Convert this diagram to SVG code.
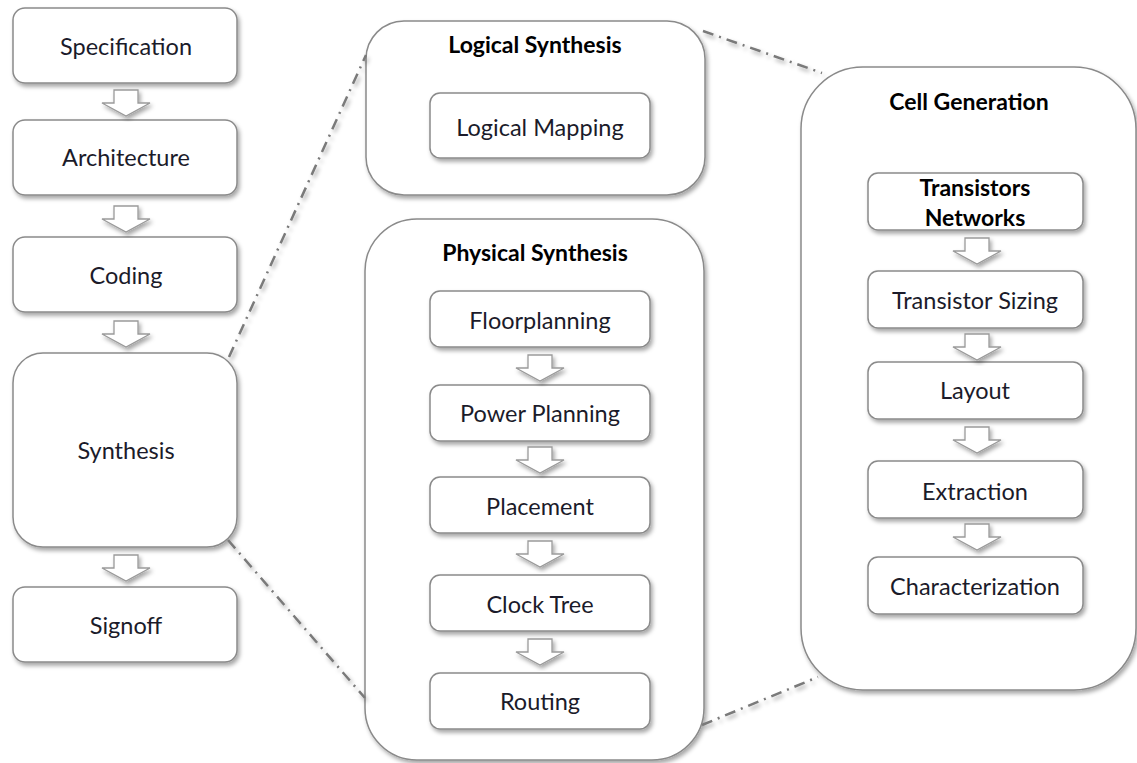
<svg xmlns="http://www.w3.org/2000/svg" width="1137" height="763" viewBox="0 0 1137 763">
<defs>
<filter id="sh" x="-10%" y="-10%" width="125%" height="130%">
<feDropShadow dx="2" dy="3" stdDeviation="2.2" flood-color="#000" flood-opacity="0.35"/>
</filter>
<path id="arr" d="M-12,0 H12 V13 H24 L0,26 L-24,13 H-12 Z"/>
</defs>
<style>
.box{fill:#fff;stroke:#8a8a8a;stroke-width:1.5;filter:url(#sh)}
.t{font-family:Lato,"Open Sans",sans-serif;font-size:23.5px;fill:#1b1b2a;text-anchor:middle;dominant-baseline:central}
.b{font-weight:bold;font-size:23px;fill:#000}
.a{fill:#fff;stroke:#9a9a9a;stroke-width:1.3;filter:url(#sh)}
.dl{fill:none;stroke:#7a7a7a;stroke-width:2.5;stroke-dasharray:11 6 2 6;filter:url(#sh)}
</style>
<rect width="1137" height="763" fill="#fff"/>

<g id="specification"><rect class="box" x="13" y="8" width="224" height="75" rx="12"/><text class="t" x="126" y="46">Specification</text></g>
<g id="architecture"><rect class="box" x="13" y="120" width="224" height="75" rx="12"/><text class="t" x="126" y="157">Architecture</text></g>
<g id="coding"><rect class="box" x="13" y="237" width="224" height="75" rx="12"/><text class="t" x="126" y="275">Coding</text></g>
<g id="synthesis"><rect class="box" x="13" y="353" width="224" height="194" rx="30"/><text class="t" x="126" y="450">Synthesis</text></g>
<g id="signoff"><rect class="box" x="13" y="587" width="224" height="75" rx="12"/><text class="t" x="126" y="625">Signoff</text></g>

<g id="logical-synthesis"><rect class="box" x="366" y="21" width="339" height="174" rx="38"/><text class="t b" x="535" y="44">Logical Synthesis</text></g>
<g id="logical-mapping"><rect class="box" x="430" y="93" width="220" height="65" rx="10"/><text class="t" x="540" y="127">Logical Mapping</text></g>

<g id="physical-synthesis"><rect class="box" x="365" y="219" width="339" height="541" rx="52"/><text class="t b" x="535" y="252">Physical Synthesis</text></g>
<g id="floorplanning"><rect class="box" x="430" y="291" width="220" height="56" rx="10"/><text class="t" x="540" y="320">Floorplanning</text></g>
<g id="power-planning"><rect class="box" x="430" y="385" width="220" height="56" rx="10"/><text class="t" x="540" y="413">Power Planning</text></g>
<g id="placement"><rect class="box" x="430" y="477" width="220" height="56" rx="10"/><text class="t" x="540" y="506">Placement</text></g>
<g id="clock-tree"><rect class="box" x="430" y="575" width="220" height="56" rx="10"/><text class="t" x="540" y="604">Clock Tree</text></g>
<g id="routing"><rect class="box" x="430" y="673" width="220" height="56" rx="10"/><text class="t" x="540" y="701">Routing</text></g>

<g id="cell-generation"><rect class="box" x="801" y="67" width="335" height="623" rx="62"/><text class="t b" x="969" y="101">Cell Generation</text></g>
<g id="transistors-networks"><rect class="box" x="868" y="173" width="215" height="57" rx="10"/><text class="t b" x="975" y="187">Transistors</text><text class="t b" x="975" y="217">Networks</text></g>
<g id="transistor-sizing"><rect class="box" x="868" y="271" width="215" height="57" rx="10"/><text class="t" x="975" y="300">Transistor Sizing</text></g>
<g id="layout"><rect class="box" x="868" y="362" width="215" height="57" rx="10"/><text class="t" x="975" y="390">Layout</text></g>
<g id="extraction"><rect class="box" x="868" y="461" width="215" height="57" rx="10"/><text class="t" x="975" y="491">Extraction</text></g>
<g id="characterization"><rect class="box" x="868" y="557" width="215" height="57" rx="10"/><text class="t" x="975" y="586">Characterization</text></g>

<g id="connectors">
<line class="dl" x1="229" y1="357" x2="366" y2="55"/>
<line class="dl" x1="228" y1="540" x2="365" y2="698"/>
<line class="dl" x1="703" y1="31" x2="822" y2="73"/>
<line class="dl" x1="702" y1="725" x2="818" y2="677"/>
<use href="#arr" class="a" x="126" y="90"/>
<use href="#arr" class="a" x="126" y="206"/>
<use href="#arr" class="a" x="126" y="321"/>
<use href="#arr" class="a" x="126" y="555"/>
<use href="#arr" class="a" x="540" y="355"/>
<use href="#arr" class="a" x="540" y="447"/>
<use href="#arr" class="a" x="540" y="541"/>
<use href="#arr" class="a" x="540" y="639"/>
<use href="#arr" class="a" x="977" y="238"/>
<use href="#arr" class="a" x="977" y="334"/>
<use href="#arr" class="a" x="977" y="427"/>
<use href="#arr" class="a" x="977" y="524"/>
</g>
</svg>
